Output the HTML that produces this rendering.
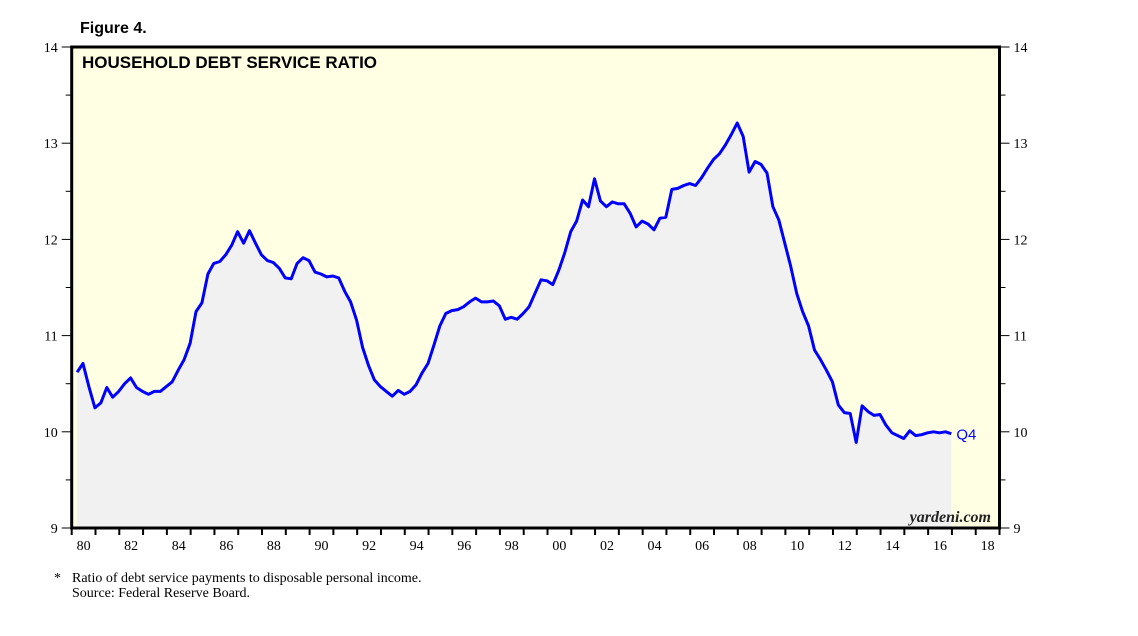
<!DOCTYPE html>
<html><head><meta charset="utf-8"><style>
body{margin:0;background:#fff;}
svg text{font-family:"Liberation Serif",serif;}
svg text.sans{font-family:"Liberation Sans",Arial,sans-serif;}
</style></head><body>
<svg width="1138" height="631" viewBox="0 0 1138 631" xmlns="http://www.w3.org/2000/svg">
<g id="chart"></g>
</svg>
<script>
const startYear = 1980;
const yTicks = [9,10,11,12,13,14];
const xLabels = ["80","82","84","86","88","90","92","94","96","98","00","02","04","06","08","10","12","14","16","18"];
const values = [10.62,10.71,10.47,10.25,10.30,10.46,10.36,10.42,10.50,10.56,10.46,10.42,10.39,10.42,10.42,10.47,10.52,10.64,10.75,10.92,
11.25,11.34,11.64,11.75,11.77,11.84,11.94,12.08,11.96,12.09,11.96,11.84,11.78,11.76,11.70,11.60,11.59,11.75,11.81,11.78,
11.66,11.64,11.61,11.62,11.60,11.46,11.35,11.16,10.88,10.69,10.54,10.47,10.42,10.37,10.43,10.39,10.42,10.49,10.61,10.71,
10.90,11.10,11.23,11.26,11.27,11.30,11.35,11.39,11.35,11.35,11.36,11.31,11.17,11.19,11.17,11.23,11.30,11.44,11.58,11.57,
11.53,11.68,11.86,12.08,12.19,12.41,12.34,12.63,12.40,12.34,12.39,12.37,12.37,12.27,12.13,12.19,12.16,12.10,12.22,12.23,
12.52,12.53,12.56,12.58,12.56,12.64,12.74,12.83,12.89,12.98,13.09,13.21,13.07,12.70,12.81,12.78,12.69,12.34,12.20,11.96,
11.72,11.44,11.25,11.10,10.85,10.75,10.64,10.52,10.28,10.20,10.19,9.89,10.27,10.21,10.17,10.18,10.07,9.99,9.96,9.93,
10.01,9.96,9.97,9.99,10.00,9.99,10.00,9.98];

const L=71.7, R=999.5, T=47, B=528, yMin=9, yMax=14, years=39;
const xs = t => L + (t - startYear) * (R - L) / years;
const ys = v => B - (v - yMin) * (B - T) / (yMax - yMin);
const NS="http://www.w3.org/2000/svg";
const g=document.getElementById('chart');
function mk(tag, attrs, parent){const e=document.createElementNS(NS,tag);for(const k in attrs)e.setAttribute(k,attrs[k]);(parent||g).appendChild(e);return e;}

const bg=mk('rect',{x:L,y:T,width:R-L,height:B-T,fill:'#ffffe4'});



const tx = i => xs(startYear + (i + 0.9) / 4);
let d='M'+tx(0)+','+B;
values.forEach((v,i)=>{d+=' L'+tx(i).toFixed(1)+','+ys(v).toFixed(1);});
d+=' L'+tx(values.length-1)+','+B+' Z';
const area=mk('path',{d:d,fill:'#f1f1f1'});



let ld='';
values.forEach((v,i)=>{ld+=(i?' L':'M')+tx(i).toFixed(1)+','+ys(v).toFixed(1);});
const line=mk('path',{d:ld,fill:'none',stroke:'#0000ff','stroke-width':3,'stroke-linejoin':'round'});



const frame=mk('rect',{x:L,y:T,width:R-L,height:B-T,fill:'none',stroke:'#000','stroke-width':3});



for(let v=yMin; v<=yMax; v+=0.5){
  const major = Number.isInteger(v);
  const len = major?10:6;
  mk('line',{x1:L-len,x2:L,y1:ys(v),y2:ys(v),stroke:'#000','stroke-width':1});
  mk('line',{x1:R,x2:R+len,y1:ys(v),y2:ys(v),stroke:'#000','stroke-width':1});
}
yTicks.forEach(v=>{
  const a=mk('text',{x:L-14,y:ys(v)+5,'text-anchor':'end','font-size':14,fill:'#000'});
  a.textContent=v;
  
  
  const b=mk('text',{x:R+14,y:ys(v)+5,'font-size':14,fill:'#000'});
  b.textContent=v;
  
  
});
for(let y=0;y<=years;y++){
  mk('line',{x1:xs(startYear+y),x2:xs(startYear+y),y1:B,y2:B+7,stroke:'#000','stroke-width':2});
}
xLabels.forEach((s,i)=>{
  const t=mk('text',{x:xs(startYear+2*i+0.5),y:550,'text-anchor':'middle','font-size':14,fill:'#000'});
  t.textContent=s;
  
  
});

const q=mk('text',{x:tx(values.length-1)+5,y:ys(values[values.length-1])+6,'font-size':15,fill:'#0000ff','class':'sans'});
q.textContent='Q4';



const wm=mk('text',{x:991,y:522,'text-anchor':'end','font-size':16,'font-style':'italic','font-weight':'bold',fill:'#222'});
wm.textContent='yardeni.com';



const fig=mk('text',{x:80,y:33,'font-size':16,'font-weight':'bold',fill:'#000','class':'sans'});
fig.textContent='Figure 4.';



const ttl=mk('text',{x:82,y:68,'font-size':17,'font-weight':'bold',fill:'#000','class':'sans'});
ttl.textContent='HOUSEHOLD DEBT SERVICE RATIO';



const st=mk('text',{x:54,y:582,'font-size':14,fill:'#000'});
st.textContent='*';


const f1=mk('text',{x:72,y:582,'font-size':14,fill:'#000'});
f1.textContent='Ratio of debt service payments to disposable personal income.';


const f2=mk('text',{x:72,y:597,'font-size':14,fill:'#000'});
f2.textContent='Source: Federal Reserve Board.';


</script>
</body></html>
